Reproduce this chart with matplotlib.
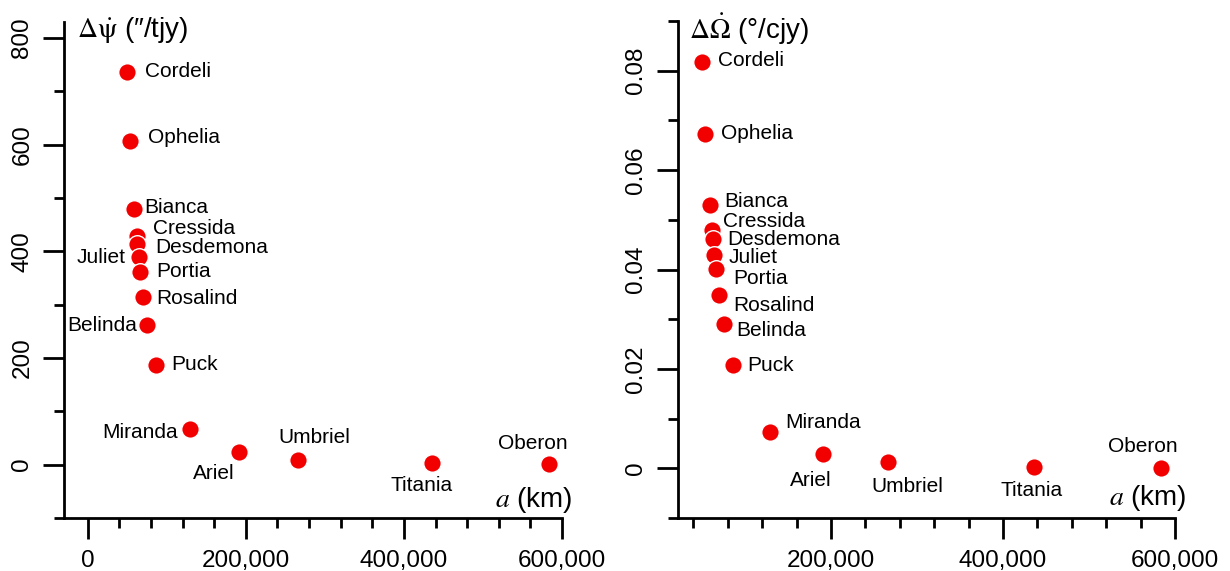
import matplotlib
matplotlib.use('Agg')
import matplotlib.pyplot as plt
from matplotlib.ticker import MultipleLocator, FuncFormatter

plt.rcParams['font.family'] = ['Liberation Sans', 'DejaVu Sans']
plt.rcParams['mathtext.fontset'] = 'stix'

# satellites of Uranus
moons = ['Cordeli', 'Ophelia', 'Bianca', 'Cressida', 'Desdemona', 'Juliet',
         'Portia', 'Rosalind', 'Belinda', 'Puck', 'Miranda', 'Ariel',
         'Umbriel', 'Titania', 'Oberon']
# semi-major axis (km)
a_km = [49770, 53790, 59170, 61780, 62680, 64350, 66090, 69940, 75260,
        86010, 129390, 191020, 266300, 435910, 583520]
# precession rate differences
dpsi = [737, 606, 479, 429, 414, 389, 362, 314, 261, 187, 66, 24, 9.4, 2.5, 1]
domega = [0.0817, 0.0672, 0.0530, 0.0479, 0.0461, 0.0429, 0.0402, 0.0348,
          0.0290, 0.0207, 0.0073, 0.0028, 0.0013, 0.0003, 0.0001]

# label offsets in pixels (dx, dy, ha)
off_left = [(18, 0, 'left'), (18, 4, 'left'), (10, 2, 'left'), (16, 7, 'left'),
            (18, -4, 'left'), (-13, 0, 'right'), (16, 0, 'left'), (13, -1, 'left'),
            (-10, 0, 'right'), (16, 0, 'left'), (-12, -3, 'right'),
            (-25, -22, 'center'), (16, 22, 'center'), (-11, -22, 'center'),
            (-16, 21, 'center')]
off_right = [(16, 2, 'left'), (16, 1, 'left'), (14, 3, 'left'), (11, 9, 'left'),
             (14, 0, 'left'), (14, -2, 'left'), (17, -10, 'left'), (14, -10, 'left'),
             (12, -6, 'left'), (14, 0, 'left'), (15, 10, 'left'),
             (-13, -26, 'center'), (19, -25, 'center'), (-2, -24, 'center'),
             (-18, 21, 'center')]

fig = plt.figure(figsize=(12.3, 5.71), dpi=100)
ax1 = fig.add_axes([64 / 1230, 53 / 571, 498 / 1230, 496 / 571])
ax2 = fig.add_axes([678 / 1230, 53 / 571, 497 / 1230, 497 / 571])

comma = FuncFormatter(lambda v, p: f'{v:,.0f}')
plain = FuncFormatter(lambda v, p: f'{v:g}')


def style(ax):
    for s in ['top', 'right']:
        ax.spines[s].set_visible(False)
    for s in ['left', 'bottom']:
        ax.spines[s].set_linewidth(2)
    ax.tick_params(which='major', length=15, width=2, labelsize=17.5, pad=8)
    ax.tick_params(axis='y', which='major', pad=7)
    ax.tick_params(which='minor', length=7.5, width=2)
    ax.tick_params(axis='y', labelrotation=90)
    ax.xaxis.set_major_locator(MultipleLocator(200000))
    ax.xaxis.set_minor_locator(MultipleLocator(40000))
    ax.xaxis.set_major_formatter(comma)


def draw(ax, yvals, offs):
    ax.scatter(a_km, yvals, s=160, color='#f20000', edgecolors='white',
               linewidths=1, zorder=3, clip_on=False)
    for name, x, y, (dx, dy, ha) in zip(moons, a_km, yvals, offs):
        ax.annotate(name, (x, y), xytext=(dx, dy), textcoords='offset pixels',
                    ha=ha, va='center', fontsize=15)


# left panel
draw(ax1, dpsi, off_left)
ax1.set_xlim(-30000, 600000)
ax1.set_ylim(-100, 830)
style(ax1)
ax1.yaxis.set_major_locator(MultipleLocator(200))
ax1.yaxis.set_minor_locator(MultipleLocator(100))
ax1.yaxis.set_major_formatter(plain)
for lab in ax1.get_yticklabels():
    lab.set_va('center')
ax1.text(0.026, 0.984, r'$\Delta\dot{\mathrm{\psi}}$ (″/tjy)', transform=ax1.transAxes,
         fontsize=20, ha='left', va='center')
ax1.text(1.022, 0.036, r'$a$ (km)', transform=ax1.transAxes,
         fontsize=20, ha='right', va='center')

# right panel
draw(ax2, domega, off_right)
ax2.set_xlim(22000, 600000)
ax2.set_ylim(-0.01, 0.09)
style(ax2)
ax2.yaxis.set_major_locator(MultipleLocator(0.02))
ax2.yaxis.set_minor_locator(MultipleLocator(0.01))
ax2.yaxis.set_major_formatter(plain)
for lab in ax2.get_yticklabels():
    lab.set_va('center')
ax2.text(0.022, 0.984, r'$\Delta\dot{\Omega}$ (°/cjy)', transform=ax2.transAxes,
         fontsize=20, ha='left', va='center')
ax2.text(1.024, 0.040, r'$a$ (km)', transform=ax2.transAxes,
         fontsize=20, ha='right', va='center')

fig.savefig('out.png', dpi=100)
